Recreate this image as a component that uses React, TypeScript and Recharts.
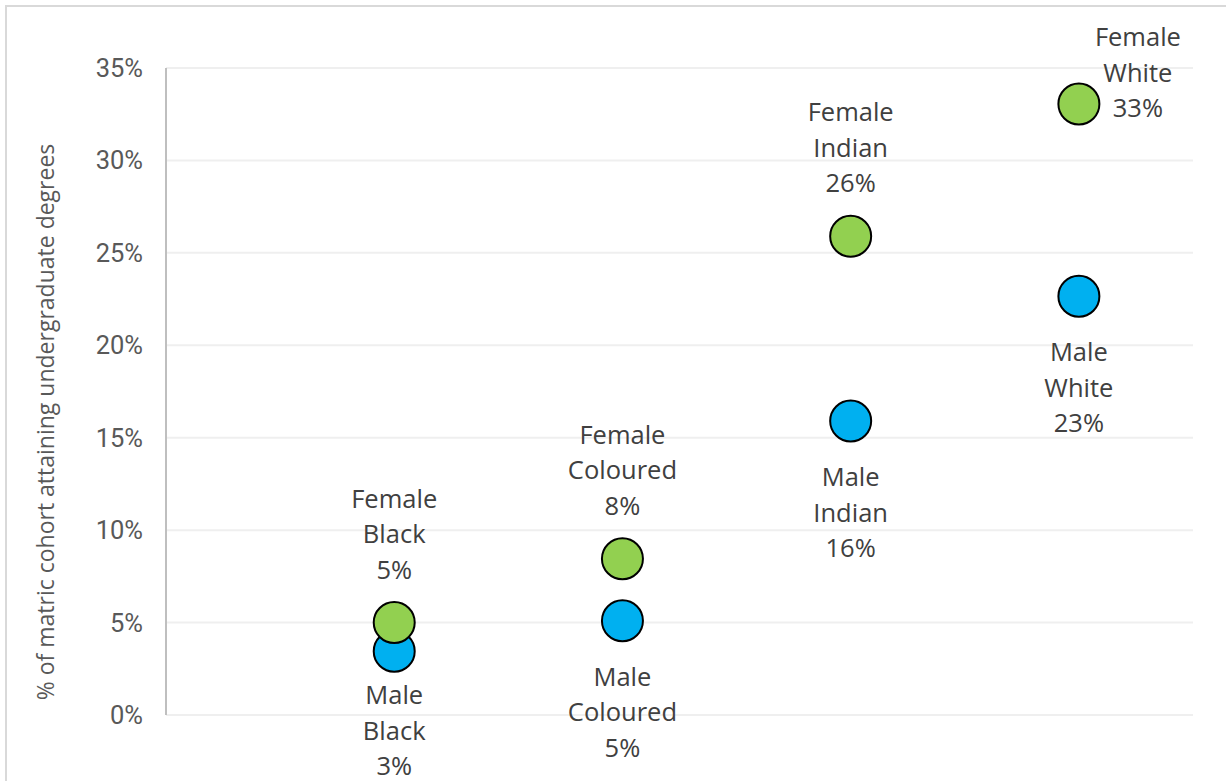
import React from 'react';
import { ScatterChart, Scatter, XAxis, YAxis, CartesianGrid } from 'recharts';

const groups = ['Black', 'Coloured', 'Indian', 'White'];
const femaleValues = [5.0, 8.45, 25.9, 33.05];
const maleValues = [3.45, 5.1, 15.9, 22.65];
const yTicks = [0, 5, 10, 15, 20, 25, 30, 35];

const femaleData = groups.map((g, i) => ({ x: i + 1, y: femaleValues[i], sex: 'Female', group: g }));
const maleData = groups.map((g, i) => ({ x: i + 1, y: maleValues[i], sex: 'Male', group: g }));

const W = 1226;
const H = 781;
const FONT = '"Open Sans", sans-serif';
const TICK_FONT = 'Roboto, sans-serif';
const LABEL_COLOR = '#404040';
const LINE = 35.5;

const makeShape = (fill: string) => (props: any) => {
  const { cx, cy, payload } = props;
  if (cx == null || cy == null || !payload) return <g />;
  const lines = [payload.sex, payload.group, `${Math.round(payload.y)}%`];
  let xs = cx;
  let ys: number[];
  if (payload.sex === 'Female') {
    const first = cy - 125;
    if (first < 30) {
      // not enough room above: place to the right
      xs = cx + 59;
      ys = [cy - 68, cy - 68 + LINE, cy - 68 + 2 * LINE];
    } else {
      ys = [first, first + LINE, first + 2 * LINE];
    }
  } else {
    let first = cy + 55;
    const maxLast = H - 16;
    if (first + 2 * LINE > maxLast) first = maxLast - 2 * LINE;
    ys = [first, first + LINE, first + 2 * LINE];
  }
  return (
    <g>
      <circle cx={cx} cy={cy} r={20.5} fill={fill} stroke="#000" strokeWidth={2} />
      {lines.map((t, i) => (
        <text
          key={i}
          x={xs}
          y={ys[i]}
          textAnchor="middle"
          dominantBaseline="central"
          fontFamily={FONT}
          fontSize={25.5}
          fill={LABEL_COLOR}
        >
          {t}
        </text>
      ))}
    </g>
  );
};

const YTitle = () => (
  <text
    x={45}
    y={422}
    transform="rotate(-90 45 422)"
    textAnchor="middle"
    dominantBaseline="central"
    fontFamily={FONT}
    fontSize={23}
    fill="#595959"
  >
    % of matric cohort attaining undergraduate degrees
  </text>
);

export default function App() {
  return (
    <div style={{ position: 'absolute', left: 0, top: 0, width: W, height: H, overflow: 'hidden', background: '#fff' }}>
      <div
        style={{
          position: 'absolute',
          left: 5,
          top: 5,
          width: W + 40,
          height: H + 40,
          border: '2px solid #d9d9d9',
          boxSizing: 'border-box',
        }}
      />
      <div style={{ position: 'absolute', left: 0, top: 0 }}>
        <ScatterChart width={W} height={H} margin={{ top: 68, right: 33, bottom: 66, left: 0 }}>
          <CartesianGrid horizontal vertical={false} stroke="#efefef" strokeWidth={2} />
          <XAxis type="number" dataKey="x" domain={[0, 4.5]} hide />
          <YAxis
            type="number"
            dataKey="y"
            domain={[0, 35]}
            ticks={yTicks}
            width={166}
            tickFormatter={(v: number) => `${v}%`}
            tickLine={false}
            tickSize={0}
            tickMargin={23}
            axisLine={{ stroke: '#bfbfbf', strokeWidth: 2 }}
            tick={{ fill: '#595959', fontFamily: TICK_FONT, fontSize: 25.5 }}
            interval={0}
          />
          <Scatter data={maleData} isAnimationActive={false} shape={makeShape('#00B0F0')} />
          <Scatter data={femaleData} isAnimationActive={false} shape={makeShape('#92D050')} />
          <YTitle />
        </ScatterChart>
      </div>
    </div>
  );
}
